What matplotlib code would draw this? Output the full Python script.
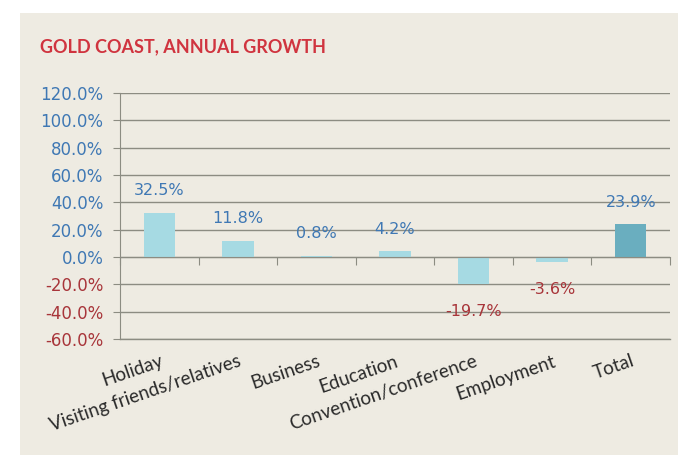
import numpy as np
from matplotlib import pyplot as plt
from matplotlib.patches import Rectangle
import matplotlib.transforms as mtransforms

# data
categories = ["Holiday", "Visiting friends/relatives", "Business", "Education",
              "Convention/conference", "Employment", "Total"]
growth = [32.5, 11.8, 0.8, 4.2, -19.7, -3.6, 23.9]
yticks = [-60, -40, -20, 0, 20, 40, 60, 80, 100, 120]

BG = "#eeebe2"
BLUE = "#3f78b4"
RED = "#a8353a"
BAR = "#a6dae3"
BAR_TOTAL = "#6aaebf"
GRID = "#8c8c82"

fig = plt.figure(figsize=(6.78, 4.55), dpi=100)
fig.patch.set_facecolor("white")
fig.patches.append(Rectangle((20/678, 0), 1, 1 - 13/455, transform=fig.transFigure,
                             facecolor=BG, edgecolor="none", zorder=-10))

ax = fig.add_axes([120/678, 1 - 339/455, 550/678, 246/455])
ax.set_facecolor(BG)

x = np.arange(len(categories))
colors = [BAR] * (len(categories) - 1) + [BAR_TOTAL]
ax.bar(x, growth, width=0.4, color=colors, zorder=3)

ax.set_xlim(-0.5, len(categories) - 0.5)
ax.set_ylim(-60, 120)
ax.set_yticks(yticks)
ax.set_yticklabels([f"{v:.1f}%" for v in yticks], fontsize=12, family="DejaVu Sans")
for lab, v in zip(ax.get_yticklabels(), yticks):
    lab.set_color(RED if v < 0 else BLUE)
ax.tick_params(axis="y", length=5, color=GRID, pad=7)
ax.yaxis.grid(True, color=GRID, linewidth=1)
ax.axhline(-60, color=GRID, linewidth=1, clip_on=False)
ax.set_axisbelow(True)

for s in ["top", "right"]:
    ax.spines[s].set_visible(False)
ax.spines["left"].set_color(GRID)
ax.spines["bottom"].set_color(GRID)
ax.spines["bottom"].set_position(("data", 0))
ax.spines["bottom"].set_zorder(4)

ax.set_xticks(np.arange(len(categories) + 1) - 0.5)
ax.set_xticklabels([])
ax.tick_params(axis="x", length=6, color=GRID)

# category labels under the plot area
trans = mtransforms.blended_transform_factory(ax.transData, ax.transAxes)
for xi, name in zip(x, categories):
    ax.text(xi, -0.055, name, transform=trans, rotation=19, rotation_mode="anchor",
            ha="right", va="top", fontsize=13.5, family="Lato", color="#2a2a2a")

# value labels
for xi, v in zip(x, growth):
    if v >= 0:
        ax.annotate(f"{v:.1f}%", (xi, v), xytext=(0, 16), textcoords="offset points",
                    ha="center", va="center", fontsize=11.5, color=BLUE, zorder=5)
    else:
        ax.annotate(f"{v:.1f}%", (xi, v), xytext=(0, -20), textcoords="offset points",
                    ha="center", va="center", fontsize=11.5, color=RED, zorder=5)

fig.text(40/678, 1 - 47/455, "GOLD COAST, ANNUAL GROWTH", fontsize=13, fontweight="bold",
         family="Lato", color="#d0343f", va="center", ha="left")

fig.savefig("out.png", dpi=100, facecolor=fig.get_facecolor())
